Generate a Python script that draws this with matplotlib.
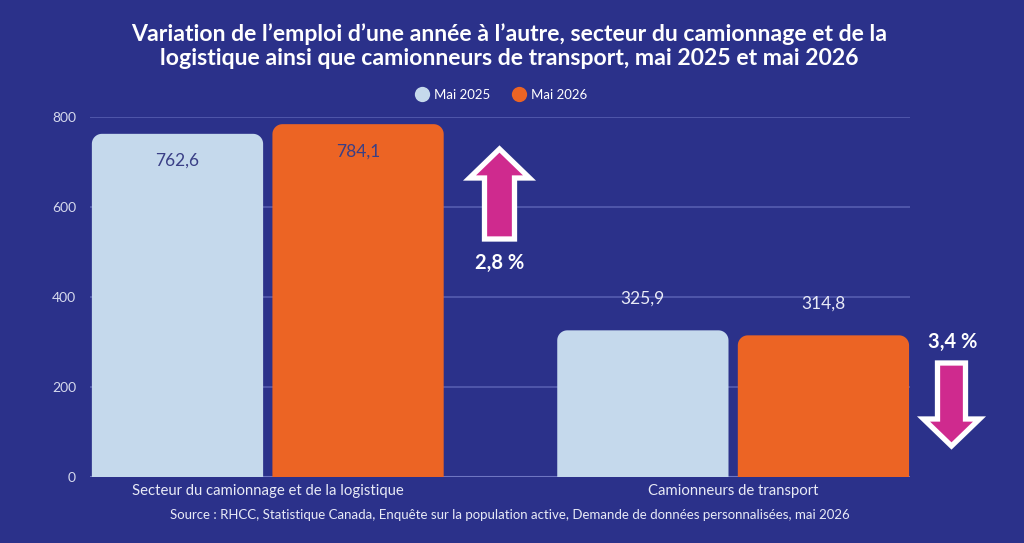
import matplotlib
matplotlib.use("Agg")
import matplotlib.pyplot as plt
import numpy as np
from matplotlib.patches import Polygon
from matplotlib.lines import Line2D

# ---- data ----
categories = ["Secteur du camionnage et de la logistique", "Camionneurs de transport"]
series_names = ["Mai 2025", "Mai 2026"]
values_2025 = [762.6, 325.9]
values_2026 = [784.1, 314.8]
y_ticks = [0, 200, 400, 600, 800]
title = ("Variation de l\u2019emploi d\u2019une ann\u00e9e \u00e0 l\u2019autre, secteur du camionnage et de la\n"
         "logistique ainsi que camionneurs de transport, mai 2025 et mai 2026")
source = ("Source : RHCC, Statistique Canada, Enqu\u00eate sur la population active, "
          "Demande de donn\u00e9es personnalis\u00e9es, mai 2026")

BG = "#2B318A"
C25 = "#C5D9EC"
C26 = "#EC6424"
MAG = "#CF2A8E"
GRID = "#5960B3"
FONT = ["Lato", "DejaVu Sans"]

W, H = 1024, 543
fig = plt.figure(figsize=(W / 100, H / 100), dpi=100, facecolor=BG)
plt.rcParams['font.family'] = FONT

ax = fig.add_axes([90 / W, 1 - 477 / H, 820 / W, 360 / H])
ax.set_facecolor(BG)
XL = (-0.382, 1.38)
ax.set_xlim(*XL)
ax.set_ylim(0, 800)

x = np.arange(len(categories))
bw = 0.368
off = 0.194

# pixel scales for rounded corners
px_per_x = 820 / (XL[1] - XL[0])
px_per_y = 360 / 800
r_px = 10
rx = r_px / px_per_x
ry = r_px / px_per_y


def rounded_bars(xs, vals, color):
    bars = ax.bar(xs, vals, bw, color=color, zorder=3)
    t = np.linspace(0, np.pi / 2, 12)
    for b in bars:
        x0, y0, w, h = b.get_x(), b.get_y(), b.get_width(), b.get_height()
        b.set_visible(False)
        x1, y1 = x0 + w, y0 + h
        pts = [(x0, y0)]
        pts += [(x0 + rx - rx * np.cos(a), y1 - ry + ry * np.sin(a)) for a in t]
        pts += [(x1 - rx + rx * np.sin(a), y1 - ry + ry * np.cos(a)) for a in t]
        pts += [(x1, y0)]
        ax.add_patch(Polygon(pts, closed=True, fc=color, ec="none", zorder=3))
    return bars


b25 = rounded_bars(x - off, values_2025, C25)
b26 = rounded_bars(x + off, values_2026, C26)

# value labels
for i, (v1, v2) in enumerate(zip(values_2025, values_2026)):
    for xs, v in ((x[i] - off, v1), (x[i] + off, v2)):
        inside = v > 600
        ax.annotate(f"{v:.1f}".replace(".", ","), (xs, v),
                    xytext=(0, -19.5 if inside else 23), textcoords="offset points",
                    ha="center", va="center", fontsize=12.5,
                    color="#3A3F86" if inside else "#E8EAF6", zorder=5)

# grid & axes
ax.set_yticks(y_ticks)
ax.set_yticklabels([str(t) for t in y_ticks])
ax.yaxis.grid(True, color=GRID, lw=1.1, zorder=1)
ax.set_axisbelow(True)
ax.axhline(0, color="#6F76C2", lw=1.5, zorder=2)
for s in ax.spines.values():
    s.set_visible(False)
ax.tick_params(axis="y", length=0, pad=10, labelsize=10, labelcolor="#D6DAEE")
ax.tick_params(axis="x", length=0, pad=5, labelsize=10.7, labelcolor="#E8EAF6")
ax.set_xticks(x)
ax.set_xticklabels(categories)

# title
fig.text(509 / W, 1 - 46 / H, title, ha="center", va="center", fontsize=16.6,
         fontweight="bold", color="white", linespacing=1.18)

# legend
handles = [Line2D([], [], marker="o", ls="none", markersize=11, markerfacecolor=c,
                  markeredgecolor="none") for c in (C25, C26)]
leg = fig.legend(handles, series_names, loc="center", bbox_to_anchor=(501 / W, 1 - 95 / H),
                 ncol=2, frameon=False, fontsize=9.5, labelcolor="white",
                 handletextpad=0.3, columnspacing=1.6, handlelength=1.2)

# source
fig.text(510 / W, 1 - 515 / H, source, ha="center", va="center", fontsize=9.5, color="#E8EAF6")


# arrows (figure pixel coordinates)
def arrow(cx, y_base, y_tip, y_head, shaft_hw, head_hw):
    pts = [(cx - shaft_hw, y_base), (cx - shaft_hw, y_head), (cx - head_hw, y_head),
           (cx, y_tip), (cx + head_hw, y_head), (cx + shaft_hw, y_head), (cx + shaft_hw, y_base)]
    pts = [(px / W, 1 - py / H) for px, py in pts]
    fig.patches.append(Polygon(pts, closed=True, fc=MAG, ec="white", lw=3.8,
                               joinstyle="miter", transform=fig.transFigure, figure=fig))


def pct_label(a, b):
    p = (b / a - 1) * 100
    return f"{abs(p):.1f}".replace(".", ",") + " %"


arrow(499.5, 239, 149, 178, 15, 30)
fig.text(500 / W, 1 - 263 / H, pct_label(values_2025[0], values_2026[0]), ha="center",
         va="center", fontsize=14.5, fontweight="bold", color="white")
arrow(951.5, 363, 446, 419, 14, 28)
fig.text(953 / W, 1 - 342 / H, pct_label(values_2025[1], values_2026[1]), ha="center",
         va="center", fontsize=14.5, fontweight="bold", color="white")

fig.savefig("out.png", dpi=100, facecolor=BG)
